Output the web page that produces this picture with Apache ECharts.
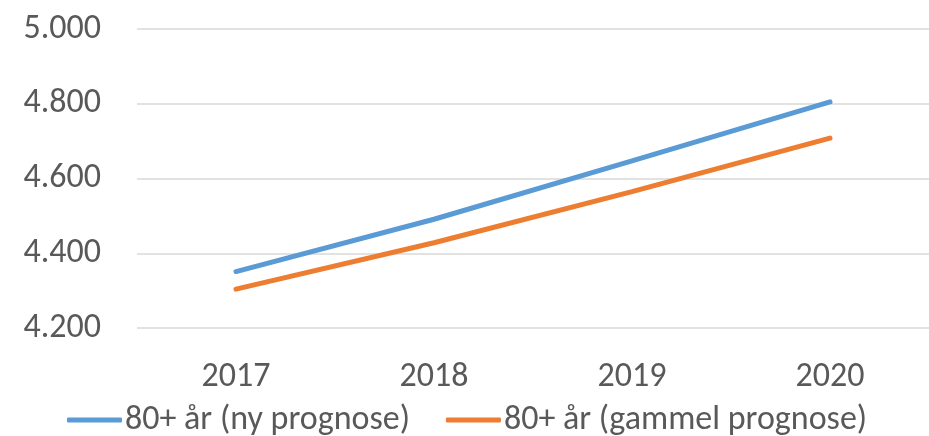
<!DOCTYPE html>
<html>
<head>
<meta charset="utf-8">
<script src="https://cdn.jsdelivr.net/npm/echarts@6/dist/echarts.min.js"></script>
<style>
  html, body { margin: 0; padding: 0; background: #fff; }
  #chart { width: 929px; height: 436px; }
</style>
</head>
<body>
<div id="chart"></div>
<script>
const years = ['2017', '2018', '2019', '2020']
const nyPrognose = [4351, 4491, 4647, 4805]
const gammelPrognose = [4304, 4428, 4565, 4708]
const seriesNames = ['80+ år (ny prognose)', '80+ år (gammel prognose)']

const font = 'Calibri, Carlito, "Liberation Sans", sans-serif'
const textColor = '#595959'

const chart = echarts.init(document.getElementById('chart'))
chart.setOption({
  animation: false,
  textStyle: { fontFamily: font },
  grid: { left: 137, right: 0, top: 29, bottom: 108 },
  legend: {
    bottom: -6,
    left: 62,
    itemWidth: 55,
    itemHeight: 5,
    itemGap: 36,
    icon: 'roundRect',
    textStyle: { fontSize: 34, color: textColor, fontFamily: font, padding: [0, 0, 0, -2] },
    data: seriesNames
  },
  xAxis: {
    type: 'category',
    data: years,
    boundaryGap: true,
    axisLine: { show: false },
    axisTick: { show: false },
    axisLabel: { fontSize: 34, color: textColor, margin: 32 }
  },
  yAxis: {
    type: 'value',
    min: 4200,
    max: 5000,
    interval: 200,
    axisLine: { show: false },
    axisTick: { show: false },
    splitLine: { lineStyle: { color: '#d9d9d9', width: 1.5 } },
    axisLabel: {
      fontSize: 34,
      color: textColor,
      margin: 36,
      formatter: v => String(v).replace(/\B(?=(\d{3})+(?!\d))/g, '.')
    }
  },
  series: [
    {
      name: seriesNames[0],
      type: 'line',
      data: nyPrognose,
      showSymbol: false,
      color: '#5b9bd5',
      lineStyle: { width: 5, cap: 'round' }
    },
    {
      name: seriesNames[1],
      type: 'line',
      data: gammelPrognose,
      showSymbol: false,
      color: '#ed7d31',
      lineStyle: { width: 5, cap: 'round' }
    }
  ]
})
</script>
</body>
</html>
